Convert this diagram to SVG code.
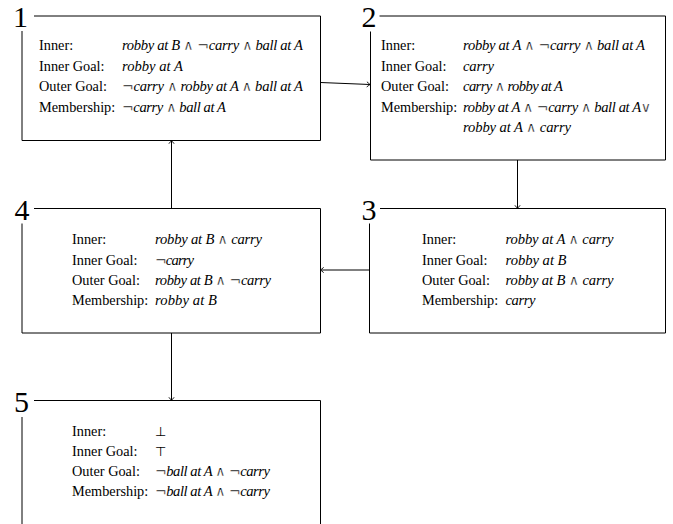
<svg xmlns="http://www.w3.org/2000/svg" width="673" height="524" viewBox="0 0 673 524">
<defs>
<style>
.box{fill:none;stroke:#000;stroke-width:1}
.num{font-family:"Liberation Serif","DejaVu Serif",serif;font-size:30px;fill:#000;text-anchor:middle}
.lab{font-family:"Liberation Serif","DejaVu Serif",serif;font-size:14.3px;fill:#000}
.val{font-family:"Liberation Serif","DejaVu Serif",serif;font-size:14.6px;fill:#000;font-style:italic}
.op{font-style:normal;font-family:"DejaVu Sans","DejaVu Serif",serif;font-size:14px;stroke:#fff;stroke-width:0.35px}
.sym{font-style:normal;font-family:"DejaVu Sans","DejaVu Serif",serif;font-size:13px;fill:#000}
.edge{fill:none;stroke:#000;stroke-width:1}
</style>
<marker id="arr" markerWidth="10" markerHeight="10" refX="0" refY="0" viewBox="-5 -5 10 10" orient="auto" markerUnits="userSpaceOnUse">
<path d="M-3.2,-2.6 Q-0.8,-0.6 0,0 Q-0.8,0.6 -3.2,2.6" fill="none" stroke="#000" stroke-width="0.9"/>
</marker>
</defs>
<rect width="673" height="524" fill="#fff"/>

<g id="edges">
<path class="edge" d="M320.5,82.5 L370,84.5" marker-end="url(#arr)"/>
<path class="edge" d="M517.5,160 V208.5" marker-end="url(#arr)"/>
<path class="edge" d="M369.5,270 H320.5" marker-end="url(#arr)"/>
<path class="edge" d="M171.5,208.5 V140.5" marker-end="url(#arr)"/>
<path class="edge" d="M171.5,333 V400.5" marker-end="url(#arr)"/>
</g>

<g id="node1">
<path class="box" d="M34,16 H320.5 V140.5 H22 V31"/>
<text class="num" x="20.5" y="26.5">1</text>
<text class="lab" x="39" y="50">Inner:</text>
<text class="lab" x="39" y="70.5">Inner Goal:</text>
<text class="lab" x="39" y="91">Outer Goal:</text>
<text class="lab" x="39" y="111.5">Membership:</text>
<text class="val" x="122" y="50" textLength="181" lengthAdjust="spacing">robby at B <tspan class="op">∧ ¬</tspan>carry <tspan class="op">∧</tspan> ball at A</text>
<text class="val" x="122" y="70.5" textLength="61" lengthAdjust="spacing">robby at A</text>
<text class="val" x="122" y="91" textLength="181" lengthAdjust="spacing"><tspan class="op">¬</tspan>carry <tspan class="op">∧</tspan> robby at A <tspan class="op">∧</tspan> ball at A</text>
<text class="val" x="122" y="111.5" textLength="104" lengthAdjust="spacing"><tspan class="op">¬</tspan>carry <tspan class="op">∧</tspan> ball at A</text>
</g>

<g id="node2">
<path class="box" d="M379.5,16 H665.5 V160 H370.5 V31.5"/>
<text class="num" x="369" y="26.5">2</text>
<text class="lab" x="381" y="50">Inner:</text>
<text class="lab" x="381" y="70.5">Inner Goal:</text>
<text class="lab" x="381" y="91">Outer Goal:</text>
<text class="lab" x="381" y="111.5">Membership:</text>
<text class="val" x="463" y="50" textLength="182" lengthAdjust="spacing">robby at A <tspan class="op">∧ ¬</tspan>carry <tspan class="op">∧</tspan> ball at A</text>
<text class="val" x="463" y="70.5" textLength="31" lengthAdjust="spacing">carry</text>
<text class="val" x="463" y="91" textLength="100" lengthAdjust="spacing">carry <tspan class="op">∧</tspan> robby at A</text>
<text class="val" x="463" y="111.5" textLength="188" lengthAdjust="spacing">robby at A <tspan class="op">∧ ¬</tspan>carry <tspan class="op">∧</tspan> ball at A<tspan class="op">∨</tspan></text>
<text class="val" x="463" y="132" textLength="108" lengthAdjust="spacing">robby at A <tspan class="op">∧</tspan> carry</text>
</g>

<g id="node3">
<path class="box" d="M380,208.5 H665.5 V333 H369.5 V223.5"/>
<text class="num" x="369" y="219.5">3</text>
<text class="lab" x="422" y="244">Inner:</text>
<text class="lab" x="422" y="264.5">Inner Goal:</text>
<text class="lab" x="422" y="285">Outer Goal:</text>
<text class="lab" x="422" y="305">Membership:</text>
<text class="val" x="505.5" y="244" textLength="108" lengthAdjust="spacing">robby at A <tspan class="op">∧</tspan> carry</text>
<text class="val" x="505.5" y="264.5" textLength="61" lengthAdjust="spacing">robby at B</text>
<text class="val" x="505.5" y="285" textLength="108" lengthAdjust="spacing">robby at B <tspan class="op">∧</tspan> carry</text>
<text class="val" x="505.5" y="305" textLength="30" lengthAdjust="spacing">carry</text>
</g>

<g id="node4">
<path class="box" d="M34,208.5 H320.5 V333 H22 V223.5"/>
<text class="num" x="22" y="219.5">4</text>
<text class="lab" x="72" y="244">Inner:</text>
<text class="lab" x="72" y="264.5">Inner Goal:</text>
<text class="lab" x="72" y="285">Outer Goal:</text>
<text class="lab" x="72" y="305">Membership:</text>
<text class="val" x="155" y="244" textLength="107" lengthAdjust="spacing">robby at B <tspan class="op">∧</tspan> carry</text>
<text class="val" x="155" y="264.5" textLength="39" lengthAdjust="spacing"><tspan class="op">¬</tspan>carry</text>
<text class="val" x="155" y="285" textLength="116" lengthAdjust="spacing">robby at B <tspan class="op">∧ ¬</tspan>carry</text>
<text class="val" x="155" y="305" textLength="62" lengthAdjust="spacing">robby at B</text>
</g>

<g id="node5">
<path class="box" d="M34,400.5 H320.5 V530 M22,530 V417"/>
<text class="num" x="21.5" y="411.5">5</text>
<text class="lab" x="72" y="435.5">Inner:</text>
<text class="lab" x="72" y="455.5">Inner Goal:</text>
<text class="lab" x="72" y="475.5">Outer Goal:</text>
<text class="lab" x="72" y="495.5">Membership:</text>
<text class="sym" x="155" y="435.5">⊥</text>
<text class="sym" x="155" y="455.5">⊤</text>
<text class="val" x="155" y="475.5" textLength="115" lengthAdjust="spacing"><tspan class="op">¬</tspan>ball at A <tspan class="op">∧ ¬</tspan>carry</text>
<text class="val" x="155" y="495.5" textLength="115" lengthAdjust="spacing"><tspan class="op">¬</tspan>ball at A <tspan class="op">∧ ¬</tspan>carry</text>
</g>
</svg>
